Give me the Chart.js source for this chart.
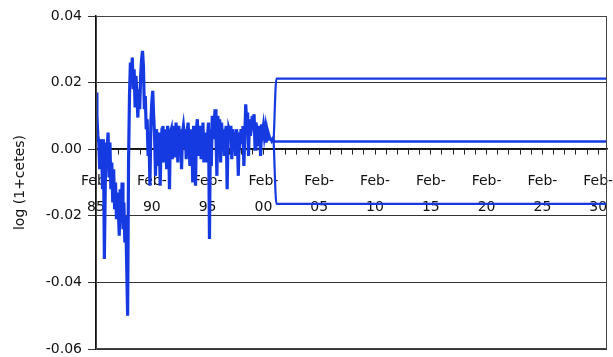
<!DOCTYPE html>
<html>
<head>
<meta charset="utf-8">
<script src="https://cdn.jsdelivr.net/npm/chart.js@4.4.1/dist/chart.umd.min.js"></script>
<style>
  html, body { margin: 0; padding: 0; background: #fff; }
  #wrap { width: 613px; height: 357px; }
</style>
</head>
<body>
<div id="wrap"><canvas id="cetesChart" width="613" height="357"></canvas></div>
<script>
// monthly log(1+cetes), Feb-85 .. Jan-01 (one row per year, Feb..Jan)
var cetes = [
  0.017, 0.010, 0.004, 0.002, -0.006, 0.003, 0.001, -0.012, 0.003, -0.033, -0.010, 0.002,
  0.000, 0.005, -0.008, 0.002, -0.012, -0.004, -0.016, -0.006, -0.018, -0.010, -0.021, -0.013,
  -0.018, -0.026, -0.012, -0.022, -0.010, -0.024, -0.016, -0.028, -0.020, -0.035, -0.050, -0.004,
  0.016, 0.026, 0.020, 0.0275, 0.018, 0.024, 0.013, 0.022, 0.016, 0.0095, 0.018, 0.012,
  0.022, 0.027, 0.0295, 0.025, 0.012, 0.016, 0.006, 0.009, -0.002, 0.004, -0.011, 0.008,
  0.014, 0.0175, 0.010, 0.004, -0.008, 0.006, 0.003, -0.005, 0.005, -0.011, 0.002, 0.006,
  0.007, -0.004, 0.006, 0.002, -0.006, 0.007, 0.004, -0.012, 0.005, 0.006, -0.003, 0.007,
  0.005, -0.002, 0.008, 0.004, -0.004, 0.007, 0.003, 0.006, -0.006, 0.005, 0.007, 0.004,
  0.006, -0.003, 0.005, 0.008, 0.002, -0.005, 0.006, 0.004, -0.010, 0.007, 0.003, -0.011,
  0.006, 0.009, -0.002, 0.005, 0.007, -0.003, 0.006, 0.008, -0.004, 0.005, 0.003, -0.004,
  0.004, 0.008, -0.027, 0.006, -0.005, 0.010, 0.003, 0.007, 0.012, 0.004, -0.008, 0.010,
  0.006, 0.009, -0.004, 0.008, 0.003, 0.006, -0.002, 0.005, 0.007, -0.012, 0.004, 0.006,
  0.005, 0.007, -0.003, 0.006, 0.003, 0.005, -0.002, 0.006, 0.004, -0.008, 0.005, 0.003,
  0.006, 0.002, 0.007, -0.005, 0.004, 0.0135, 0.008, 0.011, -0.002, 0.009, 0.004, 0.006,
  0.010, 0.007, 0.0105, 0.000, 0.008, 0.006, 0.001, 0.007, 0.004, -0.002, 0.0075, 0.005,
  0.007, 0.004, 0.006, 0.002, 0.005, 0.003, 0.004, 0.003, 0.003, 0.0025, 0.003, 0.0025
];
var startYear = 1985 + 1 / 12;   // Feb-85

// forecast: mean and bands
var meanYears = [2001.0, 2030.87];
var meanVals  = [0.0023, 0.0023];
var bandYears = [2001.0, 2001.25, 2030.87];
var upperVals = [0.0025, 0.0212, 0.0212];
var lowerVals = [0.0025, -0.0164, -0.0164];

var yTicks = [-0.06, -0.04, -0.02, 0.00, 0.02, 0.04];
var xLabelEvery = 5;   // years between "Feb-yy" labels
var xEnd = 2030.87;

function pts(xs, ys) {
    var out = [];
    for (var i = 0; i < ys.length; i++) out.push({x: xs[i], y: ys[i]});
    return out;
}

var histPts = [];
for (var i = 0; i < cetes.length; i++) {
    histPts.push({x: startYear + i / 12, y: cetes[i]});
}

function noPad(scale) {
    scale.paddingLeft = 0;
    scale.paddingRight = 0;
    scale.paddingTop = 0;
    scale.paddingBottom = 0;
}

var blue = 'rgb(22, 58, 226)';

var frame = {
    id: 'frame',
    afterDraw: function(chart) {
        var a = chart.chartArea, ctx = chart.ctx;
        ctx.save();
        ctx.strokeStyle = '#444';
        ctx.lineWidth = 1;
        ctx.strokeRect(a.left + 0.5, a.top + 0.5, a.right - a.left - 1, a.bottom - a.top - 1);
        ctx.restore();
    }
};

var ctx = document.getElementById('cetesChart');
var cetesChart = new Chart(ctx, {
    type: 'line',
    data: {
        datasets: [
            { data: histPts, borderColor: blue, borderWidth: 3.2, pointRadius: 0, tension: 0 },
            { data: pts(meanYears, meanVals), borderColor: blue, borderWidth: 2.4, pointRadius: 0 },
            { data: pts(bandYears, upperVals), borderColor: blue, borderWidth: 2.2, pointRadius: 0, cubicInterpolationMode: 'monotone' },
            { data: pts(bandYears, lowerVals), borderColor: blue, borderWidth: 2.2, pointRadius: 0, cubicInterpolationMode: 'monotone' }
        ]
    },
    options: {
        responsive: false,
        animation: false,
        layout: { padding: { left: 6, top: 16, right: 6, bottom: 8 } },
        plugins: { legend: { display: false }, tooltip: { enabled: false } },
        scales: {
            x: {
                type: 'linear',
                position: { y: 0 },
                min: startYear,
                max: xEnd,
                afterFit: function(scale) { scale.height = 0; noPad(scale); },
                afterBuildTicks: function(scale) {
                    var t = [];
                    for (var v = startYear; v <= xEnd; v += 1) t.push({value: v});
                    scale.ticks = t;
                },
                grid: { drawOnChartArea: false, drawTicks: true, tickLength: 5, color: '#222' },
                border: { display: true, color: '#111', width: 1.5 },
                ticks: {
                    autoSkip: false,
                    maxRotation: 0,
                    padding: 14,
                    color: '#111',
                    font: { family: 'DejaVu Sans', size: 14, lineHeight: 1.85 },
                    callback: function(value, index) {
                        if (index % xLabelEvery !== 0) return '';
                        var yr = Math.floor(value) % 100;
                        return ['Feb-', (yr < 10 ? '0' : '') + yr];
                    }
                }
            },
            y: {
                min: -0.06,
                max: 0.04,
                afterFit: function(scale) { scale.width = 90; noPad(scale); },
                afterBuildTicks: function(scale) {
                    scale.ticks = yTicks.map(function(v) { return {value: v}; });
                },
                grid: { color: '#333', lineWidth: 1, tickLength: 8 },
                border: { display: true, color: '#111', width: 1.5 },
                ticks: {
                    padding: 6,
                    color: '#111',
                    font: { family: 'DejaVu Sans', size: 14 },
                    callback: function(value) { return value.toFixed(2); }
                },
                title: {
                    display: true,
                    text: 'log (1+cetes)',
                    color: '#111',
                    padding: { top: 6, bottom: 0 },
                    font: { family: 'DejaVu Sans', size: 14 }
                }
            }
        }
    },
    plugins: [frame]
});
</script>
</body>
</html>
